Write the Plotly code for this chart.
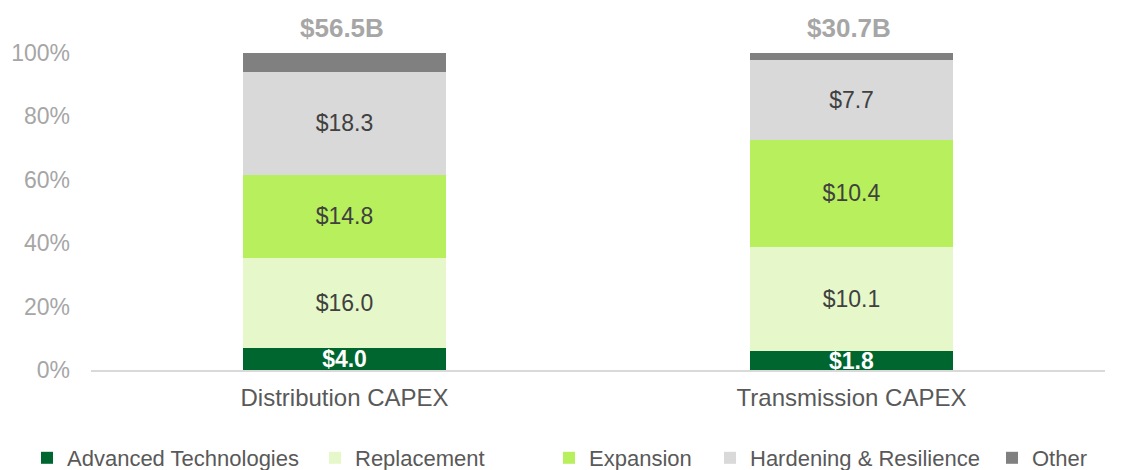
import plotly.graph_objects as go

categories = ["Distribution CAPEX", "Transmission CAPEX"]
series_names = ["Advanced Technologies", "Replacement", "Expansion", "Hardening & Resilience", "Other"]
advanced = [4.0, 1.8]
replacement = [16.0, 10.1]
expansion = [14.8, 10.4]
hardening = [18.3, 7.7]
other = [3.4, 0.7]
y_ticks = [0, 0.2, 0.4, 0.6, 0.8, 1.0]

series_values = [advanced, replacement, expansion, hardening, other]
colors = ["#006630", "#e6f8c9", "#b7f05c", "#d9d9d9", "#808080"]
totals = [sum(v[i] for v in series_values) for i in range(len(categories))]

FONT = "Liberation Sans, Arial, sans-serif"
W, H = 1120, 462  # page body has an 8px margin
legend_x = [19, 307, 541, 702, 984]

fig = go.Figure()
for k, (name, vals, col) in enumerate(zip(series_names, series_values, colors)):
    fracs = [v / t for v, t in zip(vals, totals)]
    if k == 0:
        texts = [f"<b>${v:.1f}</b>" for v in vals]
        tfont = dict(family=FONT, size=23, color="white")
    elif k == 4:
        texts = ["" for v in vals]
        tfont = dict(family=FONT, size=23, color="#404040")
    else:
        texts = [f"${v:.1f}" for v in vals]
        tfont = dict(family=FONT, size=23, color="#404040")
    fig.add_trace(go.Bar(
        x=categories, y=fracs, name=name, marker=dict(color=col, line=dict(width=0)),
        text=texts, textposition="inside", insidetextanchor="middle",
        textfont=tfont, constraintext="none", textangle=0,
        hoverinfo="skip",
        legend="legend" if k == 0 else f"legend{k+1}",
    ))

for c, t in zip(categories, totals):
    fig.add_annotation(x=c, y=1, xref="x", yref="y", text=f"<b>${t:.1f}B</b>",
                       showarrow=False, yanchor="middle", yshift=25, xshift=-3,
                       font=dict(family=FONT, size=26, color="#a6a6a6"))

legend_common = dict(orientation="h", xref="container", yref="container",
                     xanchor="left", yanchor="middle", y=1 - 450 / H,
                     font=dict(family=FONT, size=22, color="#595959"),
                     bgcolor="rgba(0,0,0,0)", borderwidth=0)
layout_legends = {}
for k in range(5):
    key = "legend" if k == 0 else f"legend{k+1}"
    layout_legends[key] = dict(legend_common, x=legend_x[k] / W)

fig.update_layout(
    barmode="stack", bargap=0.6,
    width=W, height=H,
    margin=dict(l=83, r=23, t=45, b=100, autoexpand=False),
    plot_bgcolor="white", paper_bgcolor="white",
    showlegend=True,
    font=dict(family=FONT),
    xaxis=dict(showline=True, linecolor="#d9d9d9", linewidth=2, showgrid=False,
               ticks="", tickfont=dict(family=FONT, size=24, color="#595959"),
               ticklabelstandoff=5),
    yaxis=dict(range=[0, 1], tickvals=y_ticks, tickformat=".0%", showgrid=False,
               zeroline=False, showline=False, ticks="",
               tickfont=dict(family=FONT, size=23, color="#a6a6a6"),
               ticklabelstandoff=20),
    **layout_legends,
)

fig.write_html("out.html")
